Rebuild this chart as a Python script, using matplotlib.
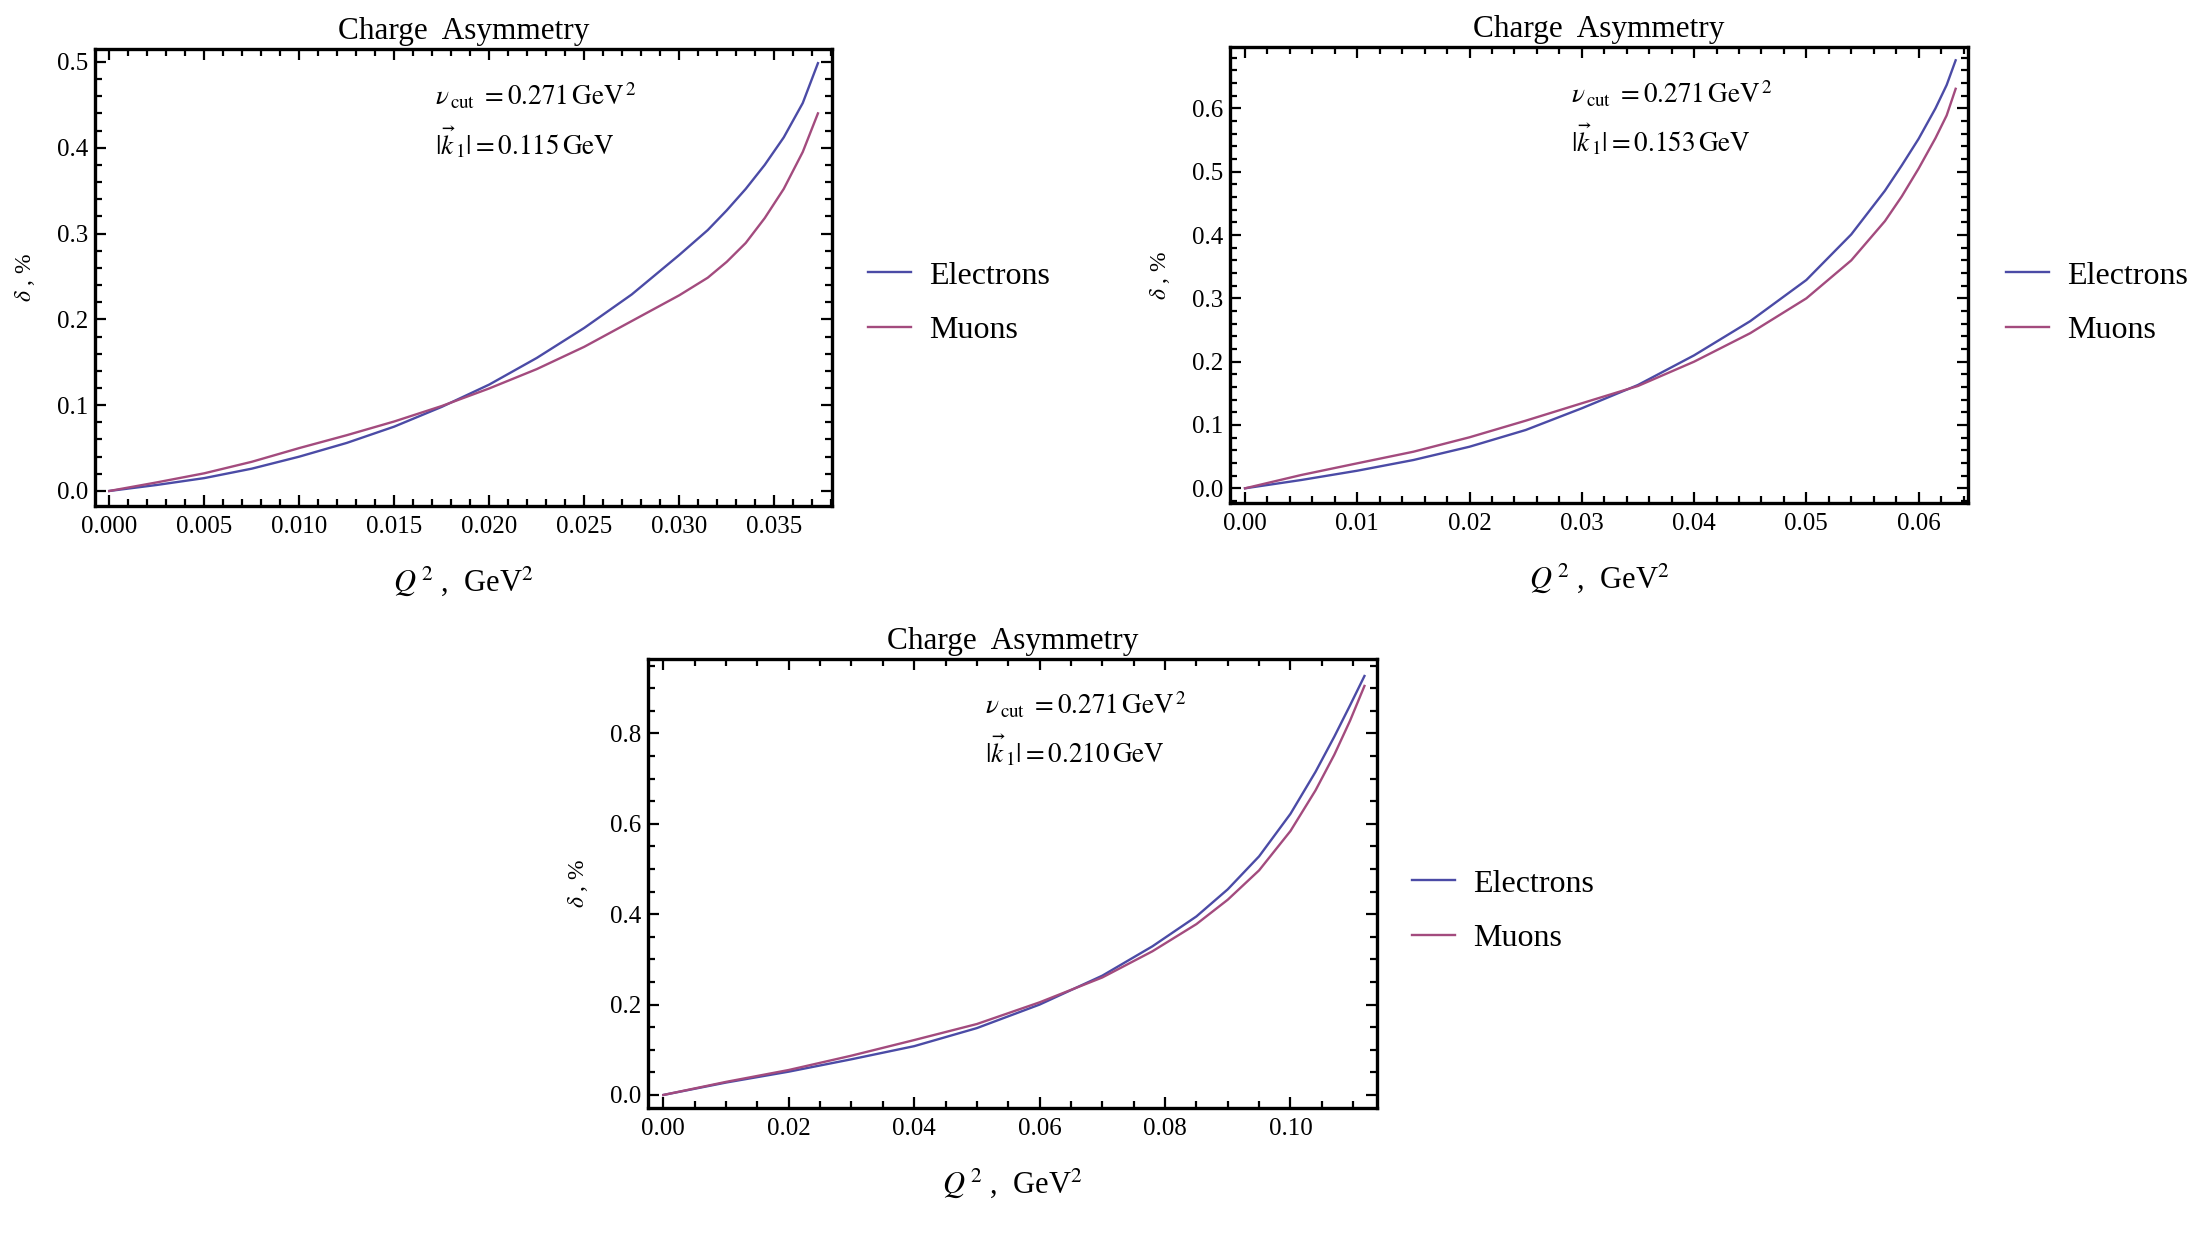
import numpy as np
import matplotlib
matplotlib.use('Agg')
import matplotlib.pyplot as plt
from matplotlib.ticker import MultipleLocator, FormatStrFormatter

plt.rcParams['font.family'] = ['Liberation Serif', 'DejaVu Serif']
plt.rcParams['mathtext.fontset'] = 'stix'

# panel 1: |k1| = 0.115 GeV
q2_a = [0, 0.0025, 0.005, 0.0075, 0.010, 0.0125, 0.015, 0.0175, 0.020, 0.0225,
        0.025, 0.0275, 0.030, 0.0315, 0.0325, 0.0335, 0.0345, 0.0355, 0.0365, 0.0373]
el_a = [0, 0.007, 0.015, 0.026, 0.040, 0.056, 0.075, 0.098, 0.124, 0.155,
        0.190, 0.229, 0.275, 0.304, 0.327, 0.352, 0.380, 0.412, 0.452, 0.4985]
mu_a = [0, 0.010, 0.0206, 0.034, 0.050, 0.065, 0.081, 0.099, 0.1195, 0.142,
        0.168, 0.198, 0.228, 0.2485, 0.267, 0.289, 0.318, 0.352, 0.395, 0.440]

# panel 2: |k1| = 0.153 GeV
q2_b = [0, 0.005, 0.010, 0.015, 0.020, 0.025, 0.030, 0.035, 0.040, 0.045,
        0.050, 0.054, 0.057, 0.0585, 0.060, 0.0615, 0.0625, 0.0633]
el_b = [0, 0.0131, 0.0278, 0.0447, 0.0657, 0.0921, 0.1264, 0.1632, 0.2100, 0.264,
        0.329, 0.401, 0.470, 0.510, 0.552, 0.600, 0.637, 0.676]
mu_b = [0, 0.021, 0.0395, 0.0578, 0.0806, 0.1068, 0.1343, 0.1616, 0.200, 0.245,
        0.300, 0.360, 0.422, 0.461, 0.505, 0.553, 0.589, 0.631]

# panel 3: |k1| = 0.210 GeV
q2_c = [0, 0.010, 0.020, 0.030, 0.040, 0.050, 0.060, 0.070, 0.078, 0.085,
        0.090, 0.095, 0.100, 0.104, 0.107, 0.1095, 0.1118]
el_c = [0, 0.0275, 0.0516, 0.079, 0.108, 0.148, 0.200, 0.264, 0.329, 0.395,
        0.455, 0.528, 0.622, 0.715, 0.793, 0.862, 0.927]
mu_c = [0, 0.029, 0.0553, 0.087, 0.1215, 0.157, 0.205, 0.260, 0.318, 0.378,
        0.432, 0.497, 0.584, 0.674, 0.753, 0.828, 0.905]

k1_labels = ['0.115', '0.153', '0.210']
nu_cut = '0.271'

c_el = '#4b4ba6'
c_mu = '#a34b7e'

W, H = 2205, 1236
fig = plt.figure(figsize=(W/100, H/100), dpi=100)

def px_axes(l, r, t, b):
    return fig.add_axes([l/W, 1-b/H, (r-l)/W, (b-t)/H])

panels = [
    # frame in px, axis limits, tick steps, x format, legend position in px
    dict(box=(95, 832, 49, 506), xlim=(-0.00075, 0.03804), ylim=(-0.0175, 0.515),
         xt=(0.005, 0.001), yt=(0.1, 0.02), xf='%.3f', leg=(868, 303),
         q=q2_a, e=el_a, m=mu_a),
    dict(box=(1230, 1968, 47, 503), xlim=(-0.00134, 0.0644), ylim=(-0.0232, 0.697),
         xt=(0.01, 0.002), yt=(0.1, 0.02), xf='%.2f', leg=(2006, 303),
         q=q2_b, e=el_b, m=mu_b),
    dict(box=(648, 1377, 659, 1108), xlim=(-0.00244, 0.1138), ylim=(-0.0288, 0.9646),
         xt=(0.02, 0.005), yt=(0.2, 0.05), xf='%.2f', leg=(1412, 911),
         q=q2_c, e=el_c, m=mu_c),
]

for i, p in enumerate(panels):
    ax = px_axes(*p['box'])
    ax.plot(p['q'], p['e'], color=c_el, lw=1.7, label='Electrons')
    ax.plot(p['q'], p['m'], color=c_mu, lw=1.7, label='Muons')
    ax.set_xlim(*p['xlim'])
    ax.set_ylim(*p['ylim'])
    ax.xaxis.set_major_locator(MultipleLocator(p['xt'][0]))
    ax.xaxis.set_minor_locator(MultipleLocator(p['xt'][1]))
    ax.yaxis.set_major_locator(MultipleLocator(p['yt'][0]))
    ax.yaxis.set_minor_locator(MultipleLocator(p['yt'][1]))
    ax.xaxis.set_major_formatter(FormatStrFormatter(p['xf']))
    ax.yaxis.set_major_formatter(FormatStrFormatter('%.1f'))
    for s in ax.spines.values():
        s.set_linewidth(2.4)
    ax.tick_params(which='both', direction='in', top=True, right=True, width=1.6)
    ax.tick_params(which='major', length=8, labelsize=18)
    ax.tick_params(which='minor', length=5)
    ax.tick_params(axis='x', pad=7)
    ax.tick_params(axis='y', pad=5)
    ax.set_title('Charge  Asymmetry', fontsize=22.5, pad=7)
    ax.set_xlabel(r'$Q^{\,2}$ ,  GeV$^{2}$', fontsize=22, labelpad=19)
    ax.set_ylabel(r'$\delta$ , %', fontsize=17, labelpad=14)
    ax.text(0.462, 0.897, r'$\nu_{\,\mathrm{cut}}\ = %s\,\mathrm{GeV}^{\,2}$' % nu_cut,
            transform=ax.transAxes, fontsize=19.5, va='center', ha='left')
    ax.text(0.462, 0.796, r'$|\vec{k}_{\,\mathrm{1}}| = %s\,\mathrm{GeV}$' % k1_labels[i],
            transform=ax.transAxes, fontsize=19.5, va='center', ha='left')
    lx, ly = p['leg']
    ax.legend(loc='center left', bbox_to_anchor=(lx/W, 1-ly/H),
              bbox_transform=fig.transFigure, frameon=False, fontsize=23,
              handlelength=1.35, handletextpad=0.55, labelspacing=0.78,
              borderpad=0, borderaxespad=0)

fig.savefig('out.png', dpi=100)
